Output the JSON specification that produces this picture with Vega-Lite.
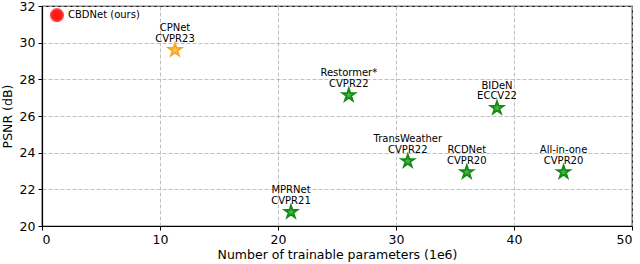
{
  "$schema": "https://vega.github.io/schema/vega-lite/v6.json",
  "width": 590,
  "height": 220,
  "autosize": {"type": "none"},
  "padding": {"left": 42, "top": 6, "right": 8, "bottom": 38},
  "config": {
    "font": "DejaVu Sans",
    "view": {"stroke": "black", "strokeWidth": 1.2},
    "axis": {
      "domainColor": "black", "domainWidth": 1.2,
      "tickColor": "black", "tickSize": 4, "tickWidth": 1,
      "labelFont": "DejaVu Sans", "labelFontSize": 12.5, "labelColor": "black",
      "titleFont": "DejaVu Sans", "titleFontSize": 12.5, "titleFontWeight": "normal", "titleColor": "black",
      "gridColor": "#b0b0b0", "gridDash": [4, 2], "gridWidth": 0.8
    }
  },
  "data": {"values": [
    {"name": "CBDNet (ours)", "params": 1.27, "psnr": 31.5, "group": "ours"},
    {"name": "CPNet\nCVPR23", "params": 11.27, "psnr": 29.6, "group": "best"},
    {"name": "Restormer*\nCVPR22", "params": 26.0, "psnr": 27.14, "group": "other"},
    {"name": "BIDeN\nECCV22", "params": 38.56, "psnr": 26.44, "group": "other"},
    {"name": "TransWeather\nCVPR22", "params": 31.0, "psnr": 23.54, "group": "other"},
    {"name": "RCDNet\nCVPR20", "params": 36.0, "psnr": 22.94, "group": "other"},
    {"name": "All-in-one\nCVPR20", "params": 44.2, "psnr": 22.94, "group": "other"},
    {"name": "MPRNet\nCVPR21", "params": 21.1, "psnr": 20.76, "group": "other"}
  ]},
  "encoding": {
    "x": {"field": "params", "type": "quantitative", "scale": {"domain": [0, 50], "nice": false},
          "axis": {"values": [0, 10, 20, 30, 40, 50], "title": "Number of trainable parameters (1e6)", "titlePadding": 3, "labelPadding": 3}},
    "y": {"field": "psnr", "type": "quantitative", "scale": {"domain": [20, 32], "nice": false, "zero": false},
          "axis": {"values": [20, 22, 24, 26, 28, 30, 32], "title": "PSNR (dB)", "titlePadding": 5, "labelPadding": 3}}
  },
  "layer": [
    {
      "transform": [{"filter": "datum.group === 'other'"}],
      "mark": {"type": "point", "filled": true, "shape": "M0,-1L0.225,-0.309L0.951,-0.309L0.363,0.118L0.588,0.809L0,0.382L-0.588,0.809L-0.363,0.118L-0.951,-0.309L-0.225,-0.309Z",
               "size": 180, "fill": "#4caf4c", "stroke": "#128c12", "strokeWidth": 1.8, "opacity": 1}
    },
    {
      "transform": [{"filter": "datum.group === 'best'"}],
      "mark": {"type": "point", "filled": true, "shape": "M0,-1L0.225,-0.309L0.951,-0.309L0.363,0.118L0.588,0.809L0,0.382L-0.588,0.809L-0.363,0.118L-0.951,-0.309L-0.225,-0.309Z",
               "size": 180, "fill": "#fcc660", "stroke": "#f5a623", "strokeWidth": 1.8, "opacity": 1}
    },
    {
      "transform": [{"filter": "datum.group === 'ours'"}],
      "mark": {"type": "point", "filled": true, "shape": "circle", "size": 160, "fill": "#ff1a1a", "stroke": "#ff5050", "strokeWidth": 1.5, "opacity": 1}
    },
    {
      "transform": [{"filter": "datum.group !== 'ours'"}],
      "mark": {"type": "text", "font": "DejaVu Sans", "fontSize": 10, "lineBreak": "\n", "lineHeight": 10.5, "baseline": "alphabetic", "align": "center", "dy": -19, "color": "black"},
      "encoding": {"text": {"field": "name"}}
    },
    {
      "transform": [{"filter": "datum.group === 'ours'"}],
      "mark": {"type": "text", "font": "DejaVu Sans", "fontSize": 10, "baseline": "middle", "align": "left", "dx": 11, "color": "black"},
      "encoding": {"text": {"field": "name"}}
    }
  ]
}
